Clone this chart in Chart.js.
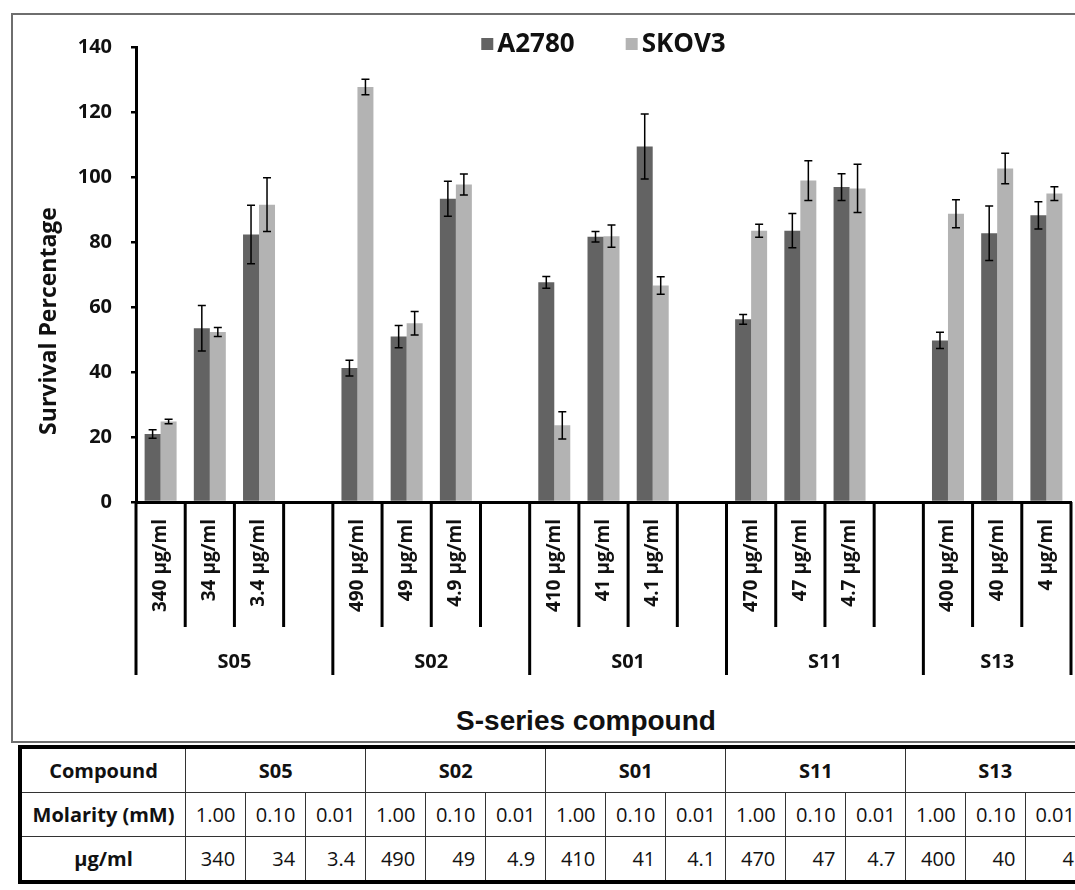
<!DOCTYPE html>
<html>
<head>
<meta charset="utf-8">
<script src="https://cdn.jsdelivr.net/npm/chart.js@4/dist/chart.umd.min.js"></script>
<style>
  html, body { margin: 0; padding: 0; background: #fff; overflow: hidden; }
  #page { position: relative; width: 1075px; height: 890px; overflow: hidden; background: #fff; }
  #frame { position: absolute; left: 11px; top: 13px; width: 1200px; height: 730px; border: 2px solid #6e6e6e; border-right: none; box-sizing: border-box; }
  #wrap { position: absolute; left: 0; top: 0; width: 1075px; height: 700px; }
  #xtitle { position: absolute; top: 705px; left: 586px; transform: translateX(-50%); font: bold 28px "Liberation Sans", Arial, sans-serif; color: #111; white-space: nowrap; }
  #tbl { position: absolute; left: 18px; top: 745px; width: 1070px; border-collapse: collapse; border: 4px solid #000; table-layout: fixed; font-family: "Open Sans", sans-serif; color: #111; }
  #tbl td { border: 1px solid #333; height: 43px; padding: 0; text-align: center; font-size: 20px; overflow: hidden; white-space: nowrap; }
  #tbl td.lab { font-weight: bold; }
  #tbl td.grp { font-weight: bold; }
  #tbl td.r { text-align: right; padding-right: 10px; }
</style>
</head>
<body>
<div id="page">
<div id="frame"></div>
<div id="wrap"><canvas id="c" width="1075" height="700"></canvas></div>
<div id="xtitle">S-series compound</div>
<table id="tbl"></table>
</div>
<script>
// ---- data ----
const categories = ['340 µg/ml','34 µg/ml','3.4 µg/ml','',
                    '490 µg/ml','49 µg/ml','4.9 µg/ml','',
                    '410 µg/ml','41 µg/ml','4.1 µg/ml','',
                    '470 µg/ml','47 µg/ml','4.7 µg/ml','',
                    '400 µg/ml','40 µg/ml','4 µg/ml'];
const groupNames = ['S05','S02','S01','S11','S13'];
const groupSizes = [4,4,4,4,3];
const seriesNames = ['A2780','SKOV3'];
const a2780    = [20.9, 53.5, 82.3, null, 41.2, 50.9, 93.3, null, 67.6, 81.6, 109.4, null, 56.2, 83.5, 96.9, null, 49.7, 82.7, 88.2];
const a2780Err = [1.3, 7.0, 9.0, null, 2.4, 3.4, 5.4, null, 1.8, 1.6, 10.0, null, 1.5, 5.3, 4.1, null, 2.5, 8.4, 4.2];
const skov3    = [24.8, 52.3, 91.5, null, 127.7, 55.0, 97.7, null, 23.6, 81.8, 66.6, null, 83.5, 98.9, 96.5, null, 88.7, 102.6, 94.9];
const skov3Err = [0.7, 1.4, 8.3, null, 2.4, 3.6, 3.2, null, 4.2, 3.4, 2.7, null, 2.0, 6.1, 7.4, null, 4.3, 4.7, 2.1];
const yTicks = { min: 0, max: 140, step: 20 };
const tableMolarity = ['1.00','0.10','0.01'];
const tableUg = [['340','34','3.4'],['490','49','4.9'],['410','41','4.1'],['470','47','4.7'],['400','40','4']];

// ---- table ----
(function(){
  const t = document.getElementById('tbl');
  let cg = '<colgroup><col style="width:165px">';
  for (let i = 0; i < 15; i++) cg += '<col style="width:59.8px">';
  cg += '</colgroup>';
  let r1 = '<tr><td class="lab">Compound</td>';
  groupNames.forEach(g => { r1 += '<td class="grp" colspan="3">' + g + '</td>'; });
  r1 += '</tr>';
  let r2 = '<tr><td class="lab">Molarity (mM)</td>';
  groupNames.forEach(() => tableMolarity.forEach(m => { r2 += '<td>' + m + '</td>'; }));
  r2 += '</tr>';
  let r3 = '<tr><td class="lab">µg/ml</td>';
  tableUg.forEach(arr => arr.forEach(v => { r3 += '<td class="r">' + v + '</td>'; }));
  r3 += '</tr>';
  t.innerHTML = cg + r1 + r2 + r3;
})();

const colors = ['#636363', '#b3b3b3'];
const errs = [a2780Err, skov3Err];

const decor = {
  id: 'decor',
  afterDatasetsDraw(chart) {
    const ctx = chart.ctx, ys = chart.scales.y;
    ctx.save();
    ctx.strokeStyle = '#000';
    ctx.lineWidth = 1.5;
    chart.data.datasets.forEach((ds, d) => {
      const meta = chart.getDatasetMeta(d);
      ds.data.forEach((v, i) => {
        const e = errs[d][i];
        if (v == null || e == null) return;
        const x = meta.data[i].x;
        const y1 = ys.getPixelForValue(v + e), y2 = ys.getPixelForValue(v - e);
        ctx.beginPath();
        ctx.moveTo(x, y1); ctx.lineTo(x, y2);
        ctx.moveTo(x - 4, y1); ctx.lineTo(x + 4, y1);
        ctx.moveTo(x - 4, y2); ctx.lineTo(x + 4, y2);
        ctx.stroke();
      });
    });
    ctx.restore();
  },
  afterDraw(chart) {
    const ctx = chart.ctx, xs = chart.scales.x, area = chart.chartArea;
    const n = categories.length;
    const slot = xs.getPixelForValue(1) - xs.getPixelForValue(0);
    const x0 = xs.getPixelForValue(0) - slot / 2;
    const starts = [0];
    groupSizes.forEach(s => starts.push(starts[starts.length - 1] + s));
    ctx.save();
    ctx.strokeStyle = '#000';
    ctx.lineWidth = 3;
    for (let k = 0; k <= n; k++) {
      const bx = x0 + k * slot;
      const long = starts.indexOf(k) >= 0;
      ctx.beginPath();
      ctx.moveTo(bx, area.bottom);
      ctx.lineTo(bx, long ? 675 : 627);
      ctx.stroke();
    }
    // group labels
    ctx.fillStyle = '#111';
    ctx.font = 'bold 20px "Open Sans"';
    ctx.textAlign = 'center';
    ctx.textBaseline = 'middle';
    groupNames.forEach((g, gi) => {
      const cx = x0 + (starts[gi] + starts[gi + 1]) / 2 * slot;
      ctx.fillText(g, cx, 662);
    });
    // y axis title
    ctx.save();
    ctx.translate(49, 321);
    ctx.rotate(-Math.PI / 2);
    ctx.font = 'bold 23px "Open Sans"';
    ctx.fillText('Survival Percentage', 0, 0);
    ctx.restore();
    // legend
    ctx.font = 'bold 26px "Open Sans"';
    ctx.textAlign = 'left';
    const box = 12, gap = 4, itemGap = 51;
    const widths = chart.data.datasets.map(ds => box + gap + ctx.measureText(ds.label).width);
    const total = widths.reduce((a, b) => a + b, 0) + itemGap * (widths.length - 1);
    let lx = (area.left + area.right) / 2 - total / 2;
    const ly = 44;
    chart.data.datasets.forEach((ds, d) => {
      ctx.fillStyle = ds.backgroundColor;
      ctx.fillRect(lx, ly - box / 2, box, box);
      ctx.fillStyle = '#111';
      ctx.fillText(ds.label, lx + box + gap, ly + 1);
      lx += widths[d] + itemGap;
    });
    ctx.restore();
  }
};

new Chart(document.getElementById('c'), {
  type: 'bar',
  data: {
    labels: categories,
    datasets: [
      { label: seriesNames[0], data: a2780, backgroundColor: colors[0] },
      { label: seriesNames[1], data: skov3, backgroundColor: colors[1] }
    ]
  },
  options: {
    responsive: false,
    animation: false,
    events: [],
    layout: { padding: { left: 0, right: 4, top: 47, bottom: 0 } },
    datasets: { bar: { categoryPercentage: 0.65, barPercentage: 1.0 } },
    plugins: { legend: { display: false }, tooltip: { enabled: false } },
    scales: {
      x: {
        grid: { display: false, drawTicks: false },
        border: { display: true, color: '#000', width: 3 },
        ticks: {
          autoSkip: false, minRotation: 90, maxRotation: 90, padding: 17,
          color: '#111', font: { family: 'Open Sans', weight: 'bold', size: 19 }
        },
        afterFit(s) { s.height = 198; s.paddingLeft = 0; s.paddingRight = 0; }
      },
      y: {
        min: yTicks.min, max: yTicks.max,
        grid: { drawOnChartArea: false, drawTicks: true, tickLength: 5, color: '#000', lineWidth: 2.5 },
        border: { display: true, color: '#000', width: 3 },
        ticks: { stepSize: yTicks.step, padding: 19, color: '#111', font: { family: 'Open Sans', weight: 'bold', size: 20 } },
        afterFit(s) { s.width = 136; }
      }
    }
  },
  plugins: [decor]
});
</script>
</body>
</html>
